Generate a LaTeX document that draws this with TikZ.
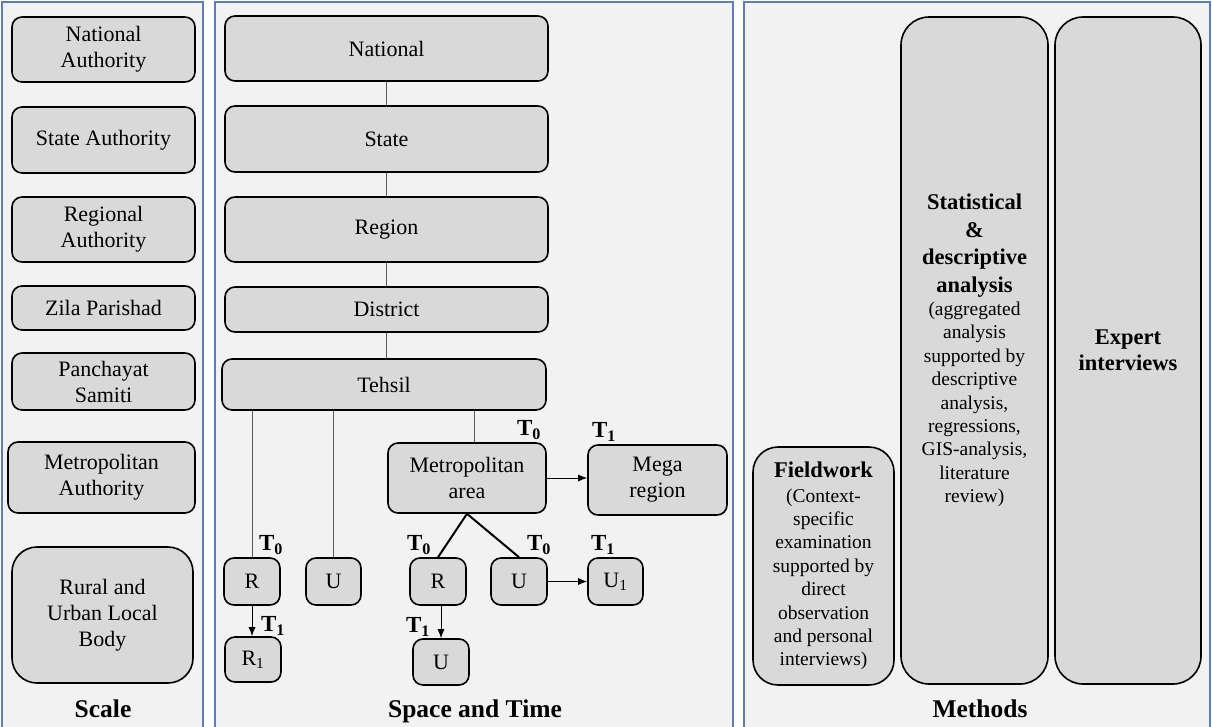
\documentclass[tikz,border=0pt]{standalone}
\usepackage{fontspec}
\setmainfont{Liberation Serif}
\usetikzlibrary{arrows.meta}
\definecolor{boxgray}{HTML}{D9D9D9}
\definecolor{panelbg}{HTML}{F2F2F2}
\definecolor{panelblue}{RGB}{95,125,180}
\definecolor{linegray}{HTML}{5A5A5A}
\tikzset{
  box/.style={draw=black, line width=1.6pt, fill=boxgray, rounded corners=10pt, align=center, inner sep=0pt, font=\fontsize{22}{26}\selectfont},
  mbox/.style={draw=black, line width=1.6pt, fill=boxgray, rounded corners=28pt, align=center, inner sep=0pt, font=\fontsize{19.5}{23.4}\selectfont},
  panel/.style={draw=panelblue, line width=1.2pt, fill=panelbg},
  tlab/.style={font=\fontsize{23}{24}\selectfont\bfseries, inner sep=0pt},
  ptitle/.style={font=\fontsize{25.5}{30}\selectfont\bfseries, inner sep=0pt, anchor=base},
  link/.style={draw=linegray, line width=0.9pt},
  bond/.style={draw=black, line width=2pt},
  arr/.style={draw=black, line width=0.9pt, -{Latex[length=9pt,width=7pt]}},
}
\newcommand{\bl}{\fontsize{22.5}{23.4}\selectfont\bfseries}
\begin{document}
\begin{tikzpicture}[x=1pt,y=-1pt]
\useasboundingbox (0,0) rectangle (1212,726);
\fill[white] (0,0) rectangle (1212,726);
\clip (0,0) rectangle (1212,726);
% panels
\draw[panel] (2,2) rectangle (203,745);
\draw[panel] (215,2) rectangle (733,745);
\draw[panel] (744,2) rectangle (1210,745);

% ---------- Scale ----------
\node[box, minimum width=183pt, minimum height=65pt] (natA) at (103.5,49.5) {National\\Authority};
\node[box, minimum width=183pt, minimum height=66pt] (staA) at (103.5,140) {State Authority};
\node[box, minimum width=183pt, minimum height=65pt] (regA) at (103.5,229.5) {Regional\\Authority};
\node[box, minimum width=183pt, minimum height=44pt] (zila) at (103.5,308) {Zila Parishad};
\node[box, minimum width=183pt, minimum height=57pt] (panc) at (103.5,381.5) {Panchayat\\Samiti};
\node[box, minimum width=187pt, minimum height=71pt] (metA) at (101.5,477.5) {Metropolitan\\Authority};
\node[box, rounded corners=25pt, minimum width=181pt, minimum height=136pt] (rulb) at (102.5,615) {Rural and\\Urban Local\\Body};
\node[ptitle] (scale) at (103,717) {Scale};

% ---------- Space and Time ----------
\node[box, minimum width=323pt, minimum height=65pt] (nat) at (386.5,48.5) {National};
\node[box, minimum width=323pt, minimum height=66pt] (sta) at (386.5,139) {State};
\node[box, minimum width=323pt, minimum height=65pt] (reg) at (386.5,229.5) {Region};
\node[box, minimum width=323pt, minimum height=45pt] (dis) at (386.5,309.5) {District};
\node[box, minimum width=324pt, minimum height=51pt] (teh) at (384,384.5) {Tehsil};

\draw[link] (nat.south) -- (sta.north);
\draw[link] (sta.south) -- (reg.north);
\draw[link] (reg.south) -- (dis.north);
\draw[link] (dis.south) -- (dis.south |- teh.north);

\node[box, minimum width=158pt, minimum height=70pt] (metro) at (467,478) {Metropolitan\\area};
\node[box, minimum width=139pt, minimum height=70pt] (mega) at (657.5,480) {Mega\\region};
\node[box, minimum width=56pt, minimum height=47pt] (r0) at (252,581.5) {R};
\node[box, minimum width=55pt, minimum height=47pt] (u0) at (333.5,581.5) {U};
\node[box, minimum width=56pt, minimum height=45pt] (r1) at (253,659.5) {R\textsubscript{1}};
\node[box, minimum width=56pt, minimum height=47pt] (mr) at (438,581.5) {R};
\node[box, minimum width=56pt, minimum height=47pt] (mu) at (519,581.5) {U};
\node[box, minimum width=55pt, minimum height=47pt] (u1) at (615.5,581.5) {U\textsubscript{1}};
\node[box, minimum width=56pt, minimum height=46pt] (mu2) at (441,662) {U};

\draw[link] (r0.north |- teh.south) -- (r0.north);
\draw[link] (u0.north |- teh.south) -- (u0.north);
\coordinate (mtop) at ([xshift=7pt]metro.north);
\draw[link] (mtop |- teh.south) -- (mtop);
\draw[bond] (metro.south) -- (mr.north);
\draw[bond] (metro.south) -- (mu.north);
\draw[arr] (metro.east) -- (metro.east -| mega.west);
\draw[arr] (r0.south) -- (r0.south |- r1.north);
\draw[arr] (mu.east) -- (mu.east -| u1.west);
\draw[arr] (mu2.north |- mr.south) -- (mu2.north);

\node[tlab] (tm) at (529,430) {T\textsubscript{0}};
\node[tlab] (tg) at (604,432) {T\textsubscript{1}};
\node[tlab] (tr0) at (271,545) {T\textsubscript{0}};
\node[tlab] (tr1) at (273,626) {T\textsubscript{1}};
\node[tlab] (tmr) at (419,545) {T\textsubscript{0}};
\node[tlab] (tmu) at (539,545) {T\textsubscript{0}};
\node[tlab] (tu1) at (603,545) {T\textsubscript{1}};
\node[tlab] (tmu2) at (418,627) {T\textsubscript{1}};
\node[ptitle] (spt) at (475,717) {Space and Time};

% ---------- Methods ----------
\node[mbox, rounded corners=25pt, minimum width=141pt, minimum height=238pt] (field) at (823.5,566)
  {{\bl Fieldwork}\\[1pt](Context-\\specific\\examination\\supported by\\direct\\observation\\and personal\\interviews)};
\node[mbox, minimum width=147pt, minimum height=667pt] (stat) at (974.5,350.5)
  {{\bl Statistical}\\[4pt]{\bl \&}\\[4pt]{\bl descriptive}\\[4pt]{\bl analysis}\\(aggregated\\analysis\\supported by\\descriptive\\analysis,\\regressions,\\GIS-analysis,\\literature\\review)};
\node[mbox, minimum width=146pt, minimum height=667pt] (exp) at (1128,350.5)
  {{\bl Expert}\\[3pt]{\bl interviews}};
\node[ptitle] (meth) at (980,717) {Methods};
\end{tikzpicture}
\end{document}
